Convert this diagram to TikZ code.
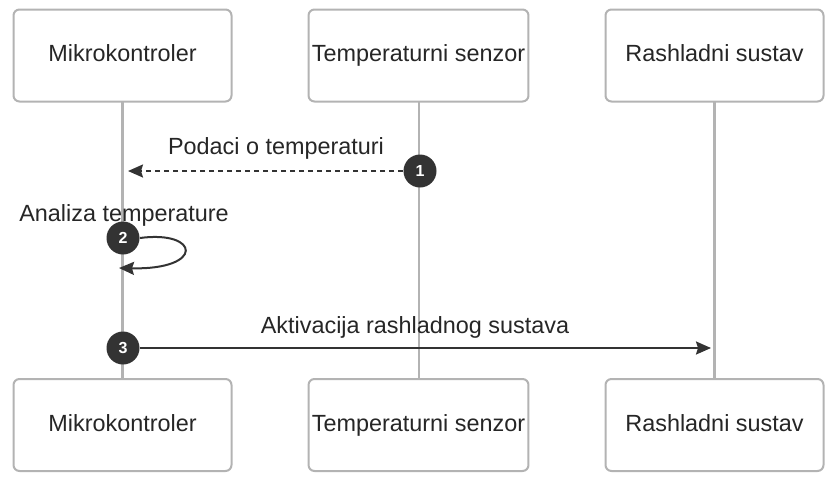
\documentclass[tikz,border=0pt]{standalone}
\usepackage{fontspec}
\setmainfont{Liberation Sans}
\usetikzlibrary{arrows.meta}

\definecolor{lifegray}{HTML}{B3B3B3}
\definecolor{msgdark}{HTML}{333333}

\begin{document}
\begin{tikzpicture}[x=1pt, y=-1pt, node distance={296pt}, thick,
    actor/.style = {draw=lifegray, line width=2pt, rounded corners=6pt, fill=white,
                    minimum width=218pt, minimum height=92pt, font=\fontsize{23.4}{28}\selectfont,
                    text=black!85, text height=17pt, text depth=5pt},
    badge/.style = {circle, fill=msgdark, minimum size=33pt, inner sep=0pt, text=white,
                    font=\fontsize{16}{18}\selectfont\bfseries},
    life/.style = {draw=lifegray, line width=2.5pt},
    msg/.style = {draw=msgdark, line width=2pt, -{Stealth[length=15pt, width=13pt, inset=2pt]}},
    lbl/.style = {font=\fontsize{23.4}{28}\selectfont, text=black!85, text height=17pt, text depth=5pt}]
        \useasboundingbox (0,0) rectangle (837,480);

        % lifelines first, boxes on top
        \coordinate (l_1) at (122.5,102);
        \coordinate (l_2) at (419,102);
        \coordinate (l_3) at (714.5,102);
        \draw[life] (l_1) -- ++(0,276);
        \draw[life] (l_2) -- ++(0,276);
        \draw[life] (l_3) -- ++(0,276);

        \node[actor] (mk_top) at (122.5,55.5) {Mikrokontroler};
        \node[actor] (ts_top) [right of=mk_top] {Temperaturni senzor};
        \node[actor] (rs_top) [right of=ts_top] {Rashladni sustav};
        \node[actor] (mk_bot) at (122.5,425) {Mikrokontroler};
        \node[actor] (ts_bot) [right of=mk_bot] {Temperaturni senzor};
        \node[actor] (rs_bot) [right of=ts_bot] {Rashladni sustav};

        % step 1
        \node[badge] (b_1) at (420,171) {1};
        \coordinate (e_1) at (128,171);
        \draw[msg, dash pattern=on 5pt off 4pt] (b_1) -- (e_1);
        \node[lbl] (t_1) at (276,148) {Podaci o temperaturi};

        % step 2
        \node[badge] (b_2) at (123,238) {2};
        \coordinate (e_2) at (119,268);
        \draw[msg] (b_2.east) .. controls (200,230) and (205,270) .. (e_2);
        \node[lbl] (t_2) at (124,215) {Analiza temperature};

        % step 3
        \node[badge] (b_3) at (123,348) {3};
        \coordinate (e_3) at (711,348);
        \draw[msg] (b_3) -- (e_3);
        \node[lbl] (t_3) at (415,327) {Aktivacija rashladnog sustava};
    \end{tikzpicture}
\end{document}
